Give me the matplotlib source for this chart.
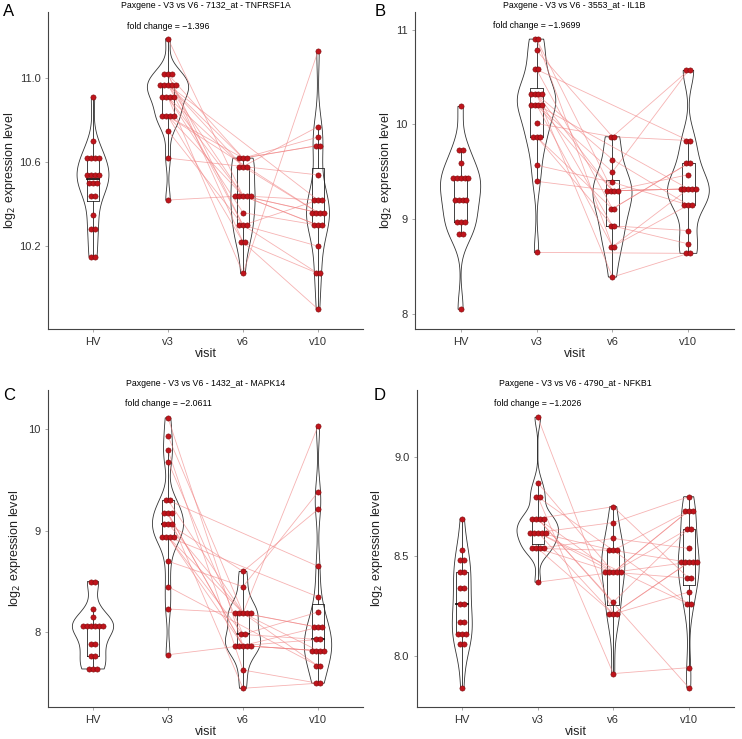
import numpy as np
import matplotlib
matplotlib.use("Agg")
import matplotlib.pyplot as plt

plt.rcParams['font.family'] = ['Liberation Sans', 'DejaVu Sans']

nan = np.nan
visits = ["HV", "v3", "v6", "v10"]

# Panel A - TNFRSF1A
a_hv = [10.91, 10.70, 10.62, 10.62, 10.62, 10.62, 10.54, 10.54, 10.54, 10.54,
        10.50, 10.50, 10.50, 10.44, 10.44, 10.35, 10.28, 10.28, 10.15, 10.15]
a_v3 = [11.19, 11.02, 11.02, 11.02, 10.97, 10.97, 10.97, 10.97, 10.97, 10.91,
        10.91, 10.91, 10.91, 10.82, 10.82, 10.82, 10.82, 10.75, 10.62, 10.42]
a_v6 = [10.44, 10.30, 10.62, 10.22, 10.58, 10.44, nan, 10.30, 10.62, 10.07,
        10.44, 10.58, 10.36, 10.22, 10.62, 10.44, nan, 10.30, 10.58, 10.44]
a_v10 = [10.30, 10.07, 10.68, 9.90, 10.77, 10.36, 10.42, 10.20, 10.72, 11.13,
         10.36, 10.54, 10.30, 10.07, 10.68, 10.42, 10.36, 10.42, 10.36, 10.30]

# Panel B - IL1B
b_hv = [10.19, 9.73, 9.73, 9.59, 9.43, 9.43, 9.43, 9.43, 9.43, 9.20,
        9.20, 9.20, 9.20, 8.97, 8.97, 8.97, 8.84, 8.84, 8.05]
b_v3 = [10.90, 10.90, 10.78, 10.58, 10.58, 10.32, 10.32, 10.32, 10.32, 10.21,
        10.21, 10.21, 10.21, 10.01, 9.87, 9.87, 9.87, 9.57, 9.40, 8.65]
b_v6 = [9.30, 8.71, 9.87, 9.11, nan, 9.30, 8.93, 9.63, 8.39, 9.30,
        nan, 9.50, 8.71, 9.87, 9.11, 8.93, nan, 9.39, 9.30, nan]
b_v10 = [9.32, 9.15, 10.57, 9.59, 9.83, 9.32, 8.88, 9.15, 8.64, 9.47,
         9.32, 10.57, 9.32, 9.83, 9.59, 8.74, nan, 9.15, 9.32, 8.64]

# Panel C - MAPK14
c_hv = [8.50, 8.50, 8.23, 8.15, 8.06, 8.06, 8.06, 8.06, 8.06, 8.06,
        7.89, 7.89, 7.77, 7.77, 7.64, 7.64, 7.64]
c_v3 = [10.11, 9.93, 9.79, 9.68, 9.30, 9.30, 9.17, 9.17, 9.17, 9.07,
        9.07, 9.07, 8.94, 8.94, 8.94, 8.94, 8.70, 8.45, 8.23, 7.78]
c_v6 = [7.87, 8.19, 7.63, 7.98, 8.19, nan, 7.87, 7.45, 7.87, 8.19,
        nan, 8.60, 7.87, 8.19, 7.98, nan, 8.45, nan, 8.19, 7.87]
c_v10 = [7.82, 8.05, 7.50, 7.93, 7.67, 8.65, 7.82, 7.50, 8.05, 10.03,
         nan, 9.21, 7.93, 7.82, 8.20, 8.35, 9.38, 7.67, 8.05, 7.82]

# Panel D - NFKB1
d_hv = [8.69, 8.53, 8.48, 8.48, 8.42, 8.42, 8.34, 8.34, 8.26, 8.26,
        8.17, 8.17, 8.11, 8.11, 8.11, 8.06, 8.06, 7.84]
d_v3 = [9.20, 8.87, 8.80, 8.80, 8.69, 8.69, 8.69, 8.69, 8.62, 8.62,
        8.62, 8.62, 8.62, 8.54, 8.54, 8.54, 8.54, 8.37, nan]
d_v6 = [8.21, 8.42, 8.53, 7.91, 8.75, 8.27, nan, 8.42, 8.53, 8.21,
        8.67, 8.42, nan, 8.59, 8.42, 8.21, 8.53, 8.42, nan]
d_v10 = [8.47, 8.73, 8.26, 7.94, 8.39, 8.64, 7.84, 8.73, 8.47, 8.32,
         8.80, 8.47, 8.26, 8.54, 8.64, 8.47, 8.73, 8.39, 8.47]

titles = ["Paxgene - V3 vs V6 - 7132_at - TNFRSF1A",
          "Paxgene - V3 vs V6 - 3553_at - IL1B",
          "Paxgene - V3 vs V6 - 1432_at - MAPK14",
          "Paxgene - V3 vs V6 - 4790_at - NFKB1"]
fold_changes = ["\u22121.396", "\u22121.9699", "\u22122.0611", "\u22121.2026"]
fc_y = [11.25, 11.04, 10.25, 9.27]
ylims = [(9.805, 11.317), (7.842, 11.186), (7.266, 10.384), (7.742, 9.337)]
yticks = [[10.2, 10.6, 11.0], [8, 9, 10, 11], [8, 9, 10], [8.0, 8.5, 9.0]]
ytick_fmt = ["{:.1f}", "{:.0f}", "{:.0f}", "{:.1f}"]
letters = ["A", "B", "C", "D"]

panels = [(a_hv, a_v3, a_v6, a_v10), (b_hv, b_v3, b_v6, b_v10),
          (c_hv, c_v3, c_v6, c_v10), (d_hv, d_v3, d_v6, d_v10)]

# axes boxes in pixels: left, right, top, bottom
boxes = [(48, 363, 12, 329), (415, 734, 12, 329),
         (48, 363, 390, 707), (417, 734, 390, 707)]
ylab_x = [10, 386, 15, 377]
title_y = [6, 6, 384, 384]
letter_pos = [(9, 12), (380, 12), (9, 395), (380, 395)]

W, H = 742, 739
fig = plt.figure(figsize=(W / 100, H / 100), dpi=100)


def kde(vals, grid):
    n = len(vals)
    sd = np.std(vals, ddof=1)
    q75, q25 = np.percentile(vals, [75, 25])
    bw = 0.9 * min(sd, (q75 - q25) / 1.34) * n ** -0.2
    if bw <= 0:
        bw = 0.9 * sd * n ** -0.2
    d = np.exp(-0.5 * ((grid[:, None] - vals[None, :]) / bw) ** 2).sum(1)
    return d / (n * bw * np.sqrt(2 * np.pi))


for k, groups in enumerate(panels):
    l, r, t, b = boxes[k]
    ax = fig.add_axes([l / W, 1 - b / H, (r - l) / W, (b - t) / H])
    clean = [np.array([v for v in g if not np.isnan(v)]) for g in groups]

    # violins (area scaled, trimmed)
    dens = []
    for vals in clean:
        grid = np.linspace(vals.min(), vals.max(), 400)
        dens.append((grid, kde(vals, grid)))
    dmax = max(d.max() for _, d in dens)
    for i, (grid, d) in enumerate(dens):
        x = i + 1
        hw = 0.275 * d / dmax
        xs = np.concatenate([x - hw, (x + hw)[::-1], [x - hw[0]]])
        ys = np.concatenate([grid, grid[::-1], [grid[0]]])
        ax.fill(xs, ys, facecolor="white", edgecolor="#333333", lw=0.6, zorder=1)

    # boxplots
    for i, vals in enumerate(clean):
        x = i + 1
        q1, med, q3 = np.percentile(vals, [25, 50, 75])
        iqr = q3 - q1
        lo = vals[vals >= q1 - 1.5 * iqr].min()
        hi = vals[vals <= q3 + 1.5 * iqr].max()
        bw2 = 0.08
        ax.plot([x, x], [lo, q1], color="#222222", lw=0.6, zorder=2)
        ax.plot([x, x], [q3, hi], color="#222222", lw=0.6, zorder=2)
        ax.plot([x - bw2, x + bw2, x + bw2, x - bw2, x - bw2],
                [q1, q1, q3, q3, q1], color="#222222", lw=0.6, zorder=2)
        ax.plot([x - bw2, x + bw2], [med, med], color="#111111", lw=1.3, zorder=2)

    # paired lines v3 -> v6 -> v10
    v3, v6, v10 = (np.array(g) for g in groups[1:])
    for s in range(len(v3)):
        xs = [2, 3, 4]
        ys = [v3[s], v6[s], v10[s]]
        pts = [(xx, yy) for xx, yy in zip(xs, ys) if not np.isnan(yy)]
        if len(pts) > 1:
            ax.plot([p[0] for p in pts], [p[1] for p in pts],
                    color="#f08080", lw=0.6, alpha=0.6, zorder=3)

    # centred dot stacks
    dx = 0.052
    for i, vals in enumerate(clean):
        uniq, counts = np.unique(vals, return_counts=True)
        for u, c in zip(uniq, counts):
            offs = (np.arange(c) - (c - 1) / 2) * dx
            ax.scatter(i + 1 + offs, np.full(c, u), s=14, color="#c0141c",
                       edgecolor="#7a0a0a", linewidth=0.4, zorder=4)

    ax.text(2, fc_y[k], "fold change = " + fold_changes[k], ha="center",
            va="center", fontsize=6.3)

    ax.set_xlim(0.4, 4.6)
    ax.set_ylim(*ylims[k])
    ax.set_xticks([1, 2, 3, 4])
    ax.set_xticklabels(visits, fontsize=8)
    ax.set_yticks(yticks[k])
    ax.set_yticklabels([ytick_fmt[k].format(v) for v in yticks[k]], fontsize=8)
    ax.tick_params(length=2.5, width=0.5, color="#888888", labelcolor="#333333", pad=3)
    for side in ["top", "right"]:
        ax.spines[side].set_visible(False)
    for side in ["left", "bottom"]:
        ax.spines[side].set_color("#444444")
        ax.spines[side].set_linewidth(0.8)
    ax.set_xlabel("visit", fontsize=9, labelpad=1, color="#222222")
    ax.set_ylabel("log$_2$ expression level", fontsize=9, color="#222222",
                  va="center")
    ax.yaxis.set_label_coords((ylab_x[k] - l) / (r - l), 0.5)

    fig.text((l + r) / 2 / W, 1 - title_y[k] / H, titles[k], ha="center",
             va="center", fontsize=6.3)
    fig.text(letter_pos[k][0] / W, 1 - letter_pos[k][1] / H, letters[k],
             ha="center", va="center", fontsize=12)

fig.savefig("out.png", dpi=100)
